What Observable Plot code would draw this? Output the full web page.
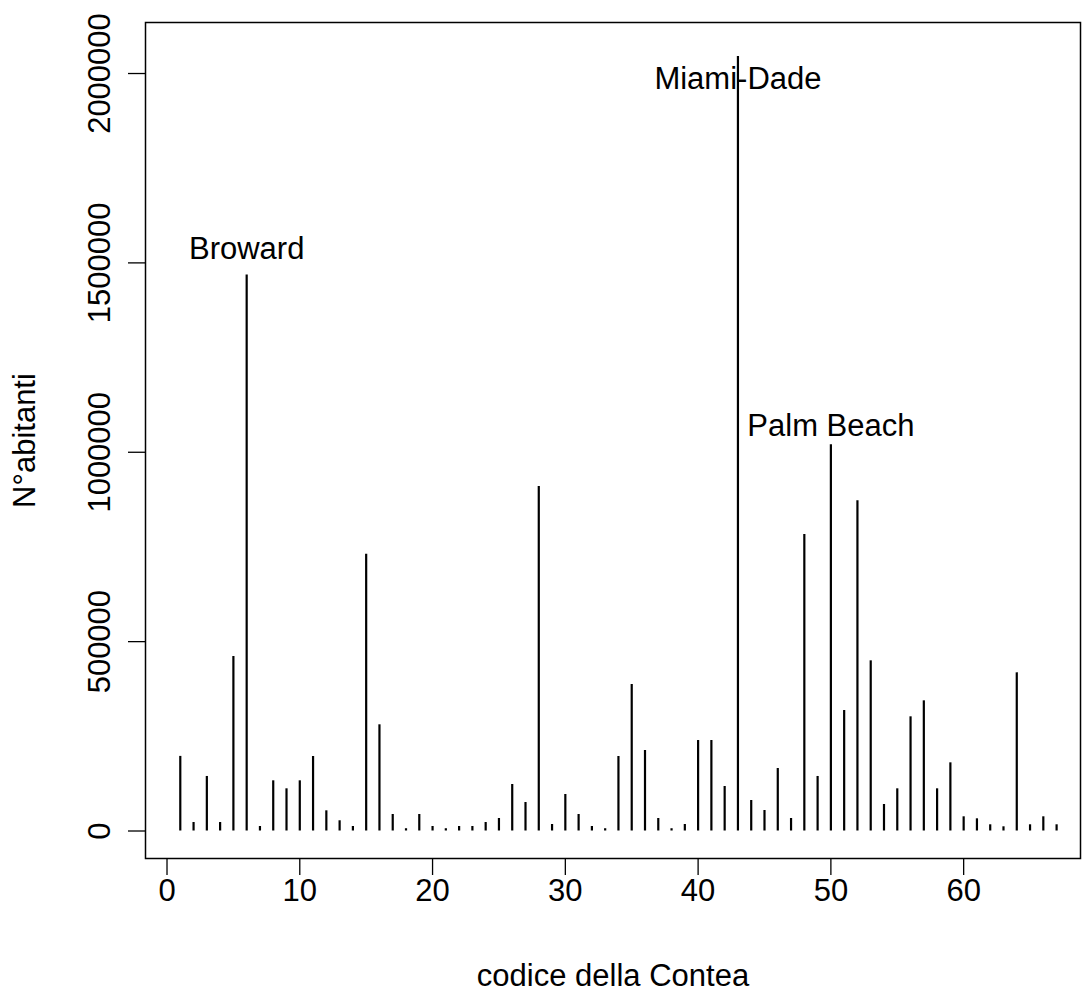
<!DOCTYPE html>
<html>
<head>
<meta charset="utf-8">
<script src="https://cdn.jsdelivr.net/npm/d3@7"></script>
<script src="https://cdn.jsdelivr.net/npm/@observablehq/plot@0.6"></script>
<style>
  html, body { margin: 0; padding: 0; background: #fff; }
  svg { display: block; }
</style>
</head>
<body>
<div id="chart"></div>
<script>
// County codes (1..67) and population values
const codes = [1,2,3,4,5,6,7,8,9,10,11,12,13,14,15,16,17,18,19,20,21,22,23,24,25,26,27,28,29,30,31,32,33,34,35,36,37,38,39,40,41,42,43,44,45,46,47,48,49,50,51,52,53,54,55,56,57,58,59,60,61,62,63,64,65,66,67];
const population = [
  197000, 22400, 144000, 22400, 460700, 1468000, 11900, 132500, 111400, 132500,
  196700, 53300, 27000, 11900, 730800, 280400, 43600, 6000, 43600, 11900,
  6000, 11900, 11900, 22400, 33000, 122800, 75200, 909500, 17200, 96400,
  43600, 11900, 6000, 196700, 386800, 212500, 33000, 6000, 17200, 238900,
  238900, 117500, 2044700, 80500, 54100, 165000, 33000, 782800, 144000, 1019600,
  318100, 871700, 449300, 70000, 111400, 301500, 343700, 111400, 180000, 37500,
  32200, 16400, 11100, 417600, 16400, 37500, 16400
];
// Labelled counties
const labelCodes = [6, 43, 50];
const labelNames = ["Broward", "Miami-Dade", "Palm Beach"];
const labelDy = [-26, 22, -19];

// Axis ticks
const xTicks = [0, 10, 20, 30, 40, 50, 60];
const yTicks = [0, 500000, 1000000, 1500000, 2000000];

const xTitle = "codice della Contea";
const yTitle = "N°abitanti";

const data = codes.map((c, i) => ({code: c, pop: population[i]}));
const labels = labelCodes.map((c, i) => ({code: c, pop: population[c - 1], name: labelNames[i], dy: labelDy[i]}));

const FONT = "Liberation Sans, Arial, Helvetica, sans-serif";
const FS = 31;

const marks = [
  Plot.frame({stroke: "black", strokeWidth: 1.5}),
  Plot.ruleX(data, {x: "code", y1: 0, y2: "pop", stroke: "black", strokeWidth: 2.2}),
  Plot.axisX({ticks: xTicks, tickSize: 17, tickFormat: () => "", label: null, stroke: "black", strokeWidth: 1.3}),
  Plot.axisY({ticks: yTicks, tickSize: 17, tickFormat: () => "", label: null, stroke: "black", strokeWidth: 1.3}),
  Plot.text(xTicks, {x: d => d, frameAnchor: "bottom", dy: 42, text: d => String(d), fontSize: FS, fill: "black", textAnchor: "middle"}),
  Plot.text(yTicks, {y: d => d, frameAnchor: "left", dx: -45, rotate: -90, text: d => String(d), fontSize: FS, fill: "black", textAnchor: "middle"}),
  Plot.text([xTitle], {frameAnchor: "bottom", dy: 127, text: d => d, fontSize: FS, fill: "black", textAnchor: "middle"}),
  Plot.text([yTitle], {frameAnchor: "left", dx: -120, rotate: -90, text: d => d, fontSize: FS, fill: "black", textAnchor: "middle"})
];
labels.forEach(l => {
  marks.push(Plot.text([l], {x: "code", y: "pop", text: "name", dy: l.dy, fontSize: FS, fill: "black"}));
});

const chart = Plot.plot({
  width: 1082,
  height: 1008,
  marginLeft: 145,
  marginRight: 2,
  marginTop: 22,
  marginBottom: 150,
  style: {fontFamily: FONT, background: "white", color: "black"},
  x: {domain: [-1.62, 68.8], axis: null},
  y: {domain: [-72600, 2134700], axis: null},
  marks
});
document.getElementById("chart").appendChild(chart);
</script>
</body>
</html>
